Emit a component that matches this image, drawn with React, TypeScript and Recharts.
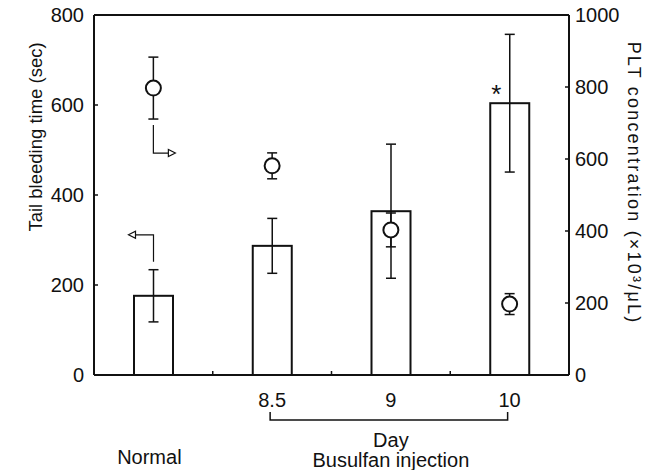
import React from "react";
import {
  ComposedChart,
  Bar,
  Scatter,
  XAxis,
  YAxis,
  ErrorBar,
  ReferenceLine,
} from "recharts";

// ── Data ──────────────────────────────────────────────────────────────────────
const groups = ["Normal", "8.5", "9", "10"];
const bleedTime = [176, 287, 364, 604]; // sec (bars, left axis)
const bleedSD = [58, 61, 149, 153];
const pltConc = [797, 581, 403, 197]; // x10^3/uL (circles, right axis)
const pltSD = [86, 36, 47, 29];
const leftTicks = [0, 200, 400, 600, 800];
const rightTicks = [0, 200, 400, 600, 800, 1000];

const data = groups.map((g, i) => ({
  group: g,
  bleed: bleedTime[i],
  bleedErr: bleedSD[i],
  plt: pltConc[i],
  pltErr: pltSD[i],
}));

// ── Layout / theme ────────────────────────────────────────────────────────────
const W = 661;
const H = 470;
const LEFT_W = 94;
const RIGHT_W = 92;
const X_H = 95;
const TOP = 15;
const BAND = (W - LEFT_W - RIGHT_W) / groups.length;
const FONT = "'Liberation Sans', Arial, Helvetica, sans-serif";
const INK = "#111";
const TICK_FS = 20;

// ── Ticks ─────────────────────────────────────────────────────────────────────
function LeftTick({ x, y, payload }: any) {
  return (
    <g>
      {payload.value !== 0 && payload.value !== 800 && (
        <line x1={x} x2={x + 4} y1={y} y2={y} stroke={INK} strokeWidth={1.5} />
      )}
      <text x={x - 10} y={y} dy="0.35em" textAnchor="end" fontSize={TICK_FS} fontFamily={FONT} fill={INK}>
        {payload.value}
      </text>
    </g>
  );
}

function RightTick({ x, y, payload }: any) {
  return (
    <g>
      {payload.value !== 0 && payload.value !== 1000 && (
        <line x1={x - 4} x2={x} y1={y} y2={y} stroke={INK} strokeWidth={1.5} />
      )}
      <text x={x + 6} y={y} dy="0.35em" textAnchor="start" fontSize={TICK_FS} fontFamily={FONT} fill={INK}>
        {payload.value}
      </text>
    </g>
  );
}

function XTick({ x, y, payload, index }: any) {
  const txt = { fontSize: TICK_FS, fontFamily: FONT, fill: INK, textAnchor: "middle" as const };
  return (
    <g>
      {index > 0 && (
        <line x1={x - BAND / 2} x2={x - BAND / 2} y1={y} y2={y - 4} stroke={INK} strokeWidth={1.5} />
      )}
      {index === 0 ? (
        <text x={x - 4} y={y + 82} dy="0.35em" {...txt}>
          {payload.value}
        </text>
      ) : (
        <text x={x} y={y + 25} dy="0.35em" {...txt}>
          {payload.value}
        </text>
      )}
      {index === 1 && (
        <g>
          <path
            d={`M${x - 2},${y + 37} V${y + 45} H${x - 2 + 2 * BAND} V${y + 37}`}
            fill="none"
            stroke={INK}
            strokeWidth={1.5}
          />
          <text x={x + BAND} y={y + 65} dy="0.35em" {...txt}>
            Day
          </text>
          <text x={x + BAND} y={y + 85} dy="0.35em" {...txt}>
            Busulfan injection
          </text>
        </g>
      )}
    </g>
  );
}

// ── Marks ─────────────────────────────────────────────────────────────────────
function BarShape({ x, y, width, height, index }: any) {
  const cx = x + width / 2;
  return (
    <g>
      <rect x={x} y={y} width={width} height={height} fill="#fff" stroke={INK} strokeWidth={2} />
      {index === 0 && (
        <g>
          <path d={`M${cx},${y - 34} V${y - 61} H${cx - 18}`} fill="none" stroke={INK} strokeWidth={1.2} />
          <path
            d={`M${cx - 25},${y - 61} L${cx - 18},${y - 64.5} L${cx - 18},${y - 57.5} Z`}
            fill="#fff"
            stroke={INK}
            strokeWidth={1.2}
          />
        </g>
      )}
      {index === 3 && (
        <text x={x + 6} y={y - 9} dy="0.35em" textAnchor="middle" fontSize={26} fontFamily={FONT} fill={INK}>
          *
        </text>
      )}
    </g>
  );
}

function CircleShape({ cx, cy, index }: any) {
  return (
    <g>
      <circle cx={cx} cy={cy} r={7.5} fill="#fff" stroke={INK} strokeWidth={2} />
      {index === 0 && (
        <g>
          <path d={`M${cx},${cy + 37} V${cy + 65} H${cx + 15}`} fill="none" stroke={INK} strokeWidth={1.2} />
          <path
            d={`M${cx + 22},${cy + 65} L${cx + 15},${cy + 61.5} L${cx + 15},${cy + 68.5} Z`}
            fill="#fff"
            stroke={INK}
            strokeWidth={1.2}
          />
        </g>
      )}
    </g>
  );
}

// ── Chart ─────────────────────────────────────────────────────────────────────
export default function App() {
  return (
    <div style={{ position: "absolute", left: 0, top: 0, width: W, height: H, background: "#fff" }}>
      <ComposedChart width={W} height={H} data={data} margin={{ top: TOP, right: 0, bottom: 0, left: 0 }}>
        <XAxis
          dataKey="group"
          height={X_H}
          tick={<XTick />}
          tickLine={false}
          tickSize={0}
          tickMargin={0}
          axisLine={{ stroke: INK, strokeWidth: 2 }}
          interval={0}
        />
        <YAxis
          yAxisId="left"
          width={LEFT_W}
          domain={[0, 800]}
          ticks={leftTicks}
          tick={<LeftTick />}
          tickLine={false}
          tickSize={0}
          tickMargin={0}
          axisLine={{ stroke: INK, strokeWidth: 2 }}
          label={{
            content: () => (
              <text
                transform="translate(36,137) rotate(-90)"
                textAnchor="middle"
                dy="0.35em"
                fontSize={18.5}
                fontFamily={FONT}
                fill={INK}
              >
                Tail bleeding time (sec)
              </text>
            ),
          }}
        />
        <YAxis
          yAxisId="right"
          orientation="right"
          width={RIGHT_W}
          domain={[0, 1000]}
          ticks={rightTicks}
          tick={<RightTick />}
          tickLine={false}
          tickSize={0}
          tickMargin={0}
          axisLine={{ stroke: INK, strokeWidth: 2 }}
          label={{
            content: () => (
              <text
                transform="translate(634,183) rotate(90)"
                textAnchor="middle"
                dy="0.35em"
                fontSize={18}
                letterSpacing={2.2}
                fontFamily={FONT}
                fill={INK}
              >
                PLT concentration (×10³/μL)
              </text>
            ),
          }}
        />
        <ReferenceLine yAxisId="left" y={800} stroke={INK} strokeWidth={2} />
        <Bar
          yAxisId="left"
          dataKey="bleed"
          barSize={39}
          shape={<BarShape />}
          isAnimationActive={false}
        >
          <ErrorBar dataKey="bleedErr" width={5} stroke={INK} strokeWidth={1.5} />
        </Bar>
        <Scatter
          yAxisId="right"
          dataKey="plt"
          shape={<CircleShape />}
          isAnimationActive={false}
        >
          <ErrorBar dataKey="pltErr" direction="y" width={5} stroke={INK} strokeWidth={1.5} />
        </Scatter>
      </ComposedChart>
    </div>
  );
}
